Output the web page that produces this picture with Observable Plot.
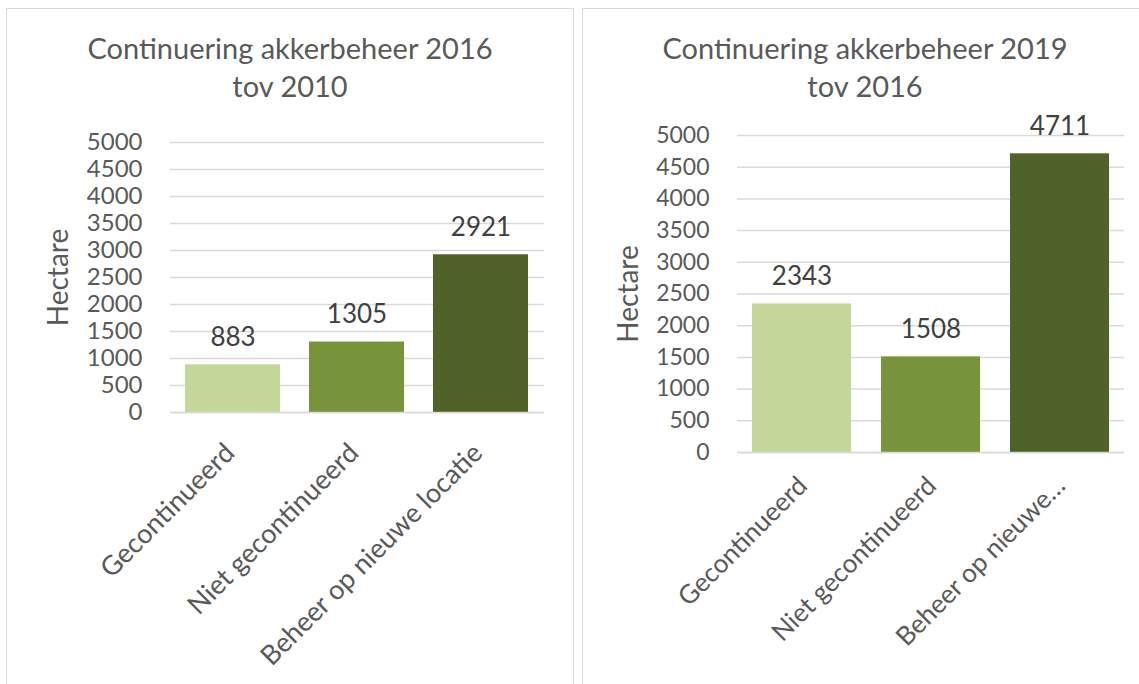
<!DOCTYPE html>
<html><head><meta charset="utf-8">
<script src="https://cdn.jsdelivr.net/npm/d3@7"></script>
<script src="https://cdn.jsdelivr.net/npm/@observablehq/plot@0.6"></script>
<style>
body{margin:0;background:#fff;width:1139px;height:684px;overflow:hidden;position:relative;font-family:Lato,sans-serif;}
.panel{position:absolute;border:1.5px solid #d9d9d9;box-sizing:border-box;background:#fff;}
.title{position:absolute;left:0;right:0;text-align:center;color:#595959;font-size:29px;line-height:38px;white-space:nowrap;}
.chart{position:absolute;}
</style></head><body>
<div id="p1" class="panel" style="left:6px;top:8px;width:568px;height:700px"></div>
<div id="p2" class="panel" style="left:582px;top:8px;width:566px;height:700px"></div>
<div id="c1" class="chart"></div>
<div id="c2" class="chart"></div>
<script>
const categories = ["Gecontinueerd", "Niet gecontinueerd", "Beheer op nieuwe locatie"];
const values2016 = [883, 1305, 2921];
const values2019 = [2343, 1508, 4711];
const tickLabels2016 = ["Gecontinueerd", "Niet gecontinueerd", "Beheer op nieuwe locatie"];
const tickLabels2019 = ["Gecontinueerd", "Niet gecontinueerd", "Beheer op nieuwe…"];
const yTicks = [0, 500, 1000, 1500, 2000, 2500, 3000, 3500, 4000, 4500, 5000];
const yLabel = "Hectare";
const title2016 = ["Continuering akkerbeheer 2016", "tov 2010"];
const title2019 = ["Continuering akkerbeheer 2019", "tov 2016"];
const barColors = ["#c4d79b", "#77933c", "#4f6228"];

function addTitle(panelId, lines) {
  const t = document.createElement("div");
  t.className = "title";
  t.style.top = "20px";
  t.innerHTML = lines.join("<br>");
  document.getElementById(panelId).appendChild(t);
}
addTitle("p1", title2016);
addTitle("p2", title2019);

function chart(containerId, values, tickLabels, pos) {
  const data = categories.map((c, i) => ({cat: c, value: values[i]}));
  const labelMap = new Map(categories.map((c, i) => [c, tickLabels[i]]));
  const el = document.getElementById(containerId);
  el.style.left = pos.left + "px";
  el.style.top = pos.top + "px";
  const p = Plot.plot({
    width: pos.width, height: pos.height,
    marginLeft: pos.ml, marginRight: pos.mr, marginTop: pos.mt, marginBottom: pos.mb,
    style: {fontFamily: "Lato, sans-serif", fontSize: pos.yfs + "px", color: "#595959", background: "transparent", overflow: "visible"},
    x: {domain: categories, paddingInner: 0.23, paddingOuter: 0.115, label: null},
    y: {domain: [0, 5000], label: null},
    color: {domain: categories, range: barColors},
    marks: [
      Plot.gridY(yTicks, {stroke: "#d9d9d9", strokeOpacity: 1, strokeWidth: 1.5}),
      Plot.barY(data, {x: "cat", y: "value", fill: "cat"}),
      Plot.ruleY([0], {stroke: "#d9d9d9", strokeWidth: 1.5}),
      Plot.text(data, {x: "cat", y: "value", text: d => String(d.value), dy: -27, fill: "#404040", fontSize: 26}),
      Plot.axisY({ticks: yTicks, tickSize: 0, tickPadding: 28, fontSize: pos.yfs, fill: "#595959",
        tickFormat: d => String(d),
        label: yLabel, labelAnchor: "center", labelArrow: "none", labelOffset: pos.lo}),
      Plot.axisX({tickSize: 0, tickPadding: pos.tp, dx: pos.dx, tickRotate: -45, fontSize: pos.xfs, fill: "#595959",
        tickFormat: d => labelMap.get(d), label: null})
    ]
  });
  p.querySelectorAll('g[aria-label="y-axis label"]').forEach(n => n.setAttribute("font-size", 28));
  el.appendChild(p);
}

chart("c1", values2016, tickLabels2016, {left: 7, top: 110, width: 566, height: 574, ml: 163, mr: 29, mt: 32, mb: 272, lo: 122, tp: 36, dx: -3, xfs: 27, yfs: 24});
chart("c2", values2019, tickLabels2019, {left: 583, top: 100, width: 556, height: 584, ml: 154, mr: 15, mt: 35, mb: 232, lo: 119, tp: 29, dx: 1, xfs: 26, yfs: 23});
</script>
</body></html>
